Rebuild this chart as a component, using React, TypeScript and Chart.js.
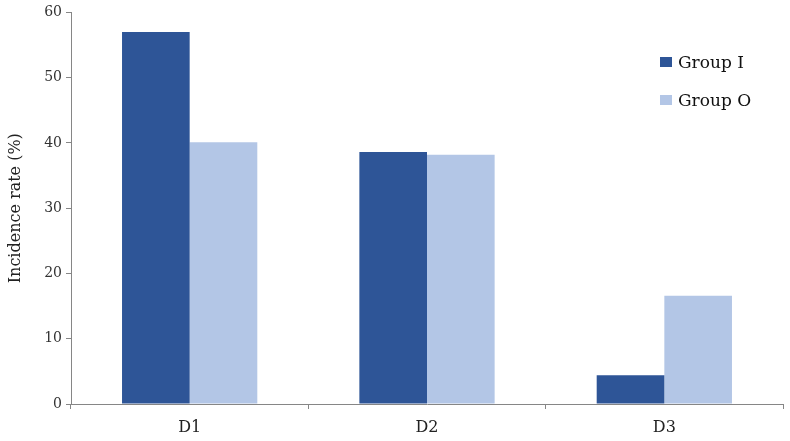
import React, { useEffect, useRef } from "react";
import { Chart, registerables } from "chart.js";

Chart.register(...registerables);

const categories = ["D1", "D2", "D3"];
const groupI = [57, 38.6, 4.4];
const groupO = [40.1, 38.2, 16.6];
const seriesNames = ["Group I", "Group O"];
const colors = ["#2E5597", "#B3C6E6"];

const FONT = "'DejaVu Serif', 'Liberation Serif', serif";

export default function App() {
  const ref = useRef<HTMLCanvasElement | null>(null);

  useEffect(() => {
    document.body.style.margin = "0";
    const ctx = ref.current!;
    const chart = new Chart(ctx, {
      type: "bar",
      data: {
        labels: categories,
        datasets: [
          { label: seriesNames[0], data: groupI, backgroundColor: colors[0], categoryPercentage: 0.57, barPercentage: 1 },
          { label: seriesNames[1], data: groupO, backgroundColor: colors[1], categoryPercentage: 0.57, barPercentage: 1 },
        ],
      },
      options: {
        responsive: false,
        animation: false,
        layout: { padding: { left: 0, right: 7, top: 11, bottom: 0 } },
        plugins: { legend: { display: false }, tooltip: { enabled: false } },
        scales: {
          x: {
            grid: { display: true, drawOnChartArea: false, drawTicks: true, tickLength: 5, color: "#868686", offset: true },
            border: { display: true, color: "#868686", width: 1 },
            ticks: { color: "#222", font: { family: FONT, size: 16 }, padding: 9 },
            afterFit: (s: any) => { s.height = 37; },
          },
          y: {
            min: 0,
            max: 60,
            grid: { display: true, drawOnChartArea: false, drawTicks: true, tickLength: 5, color: "#868686" },
            border: { display: true, color: "#868686", width: 1 },
            ticks: { stepSize: 10, color: "#333", font: { family: FONT, size: 14 }, padding: 4 },
            title: { display: true, text: "Incidence rate (%)", color: "#222", font: { family: FONT, size: 16 }, padding: { top: 6, bottom: 0 } },
            afterFit: (s: any) => { s.width = 71; },
          },
        },
      },
    });
    return () => chart.destroy();
  }, []);

  const legendItem = (name: string, color: string, top: number) => (
    <div key={name} style={{ position: "absolute", left: 660, top, display: "flex", alignItems: "center", fontFamily: FONT, fontSize: 17, color: "#111", whiteSpace: "nowrap" }}>
      <span style={{ display: "inline-block", width: 12, height: 10, background: color, marginRight: 6 }} />
      <span>{name}</span>
    </div>
  );

  return (
    <div style={{ position: "relative", width: 790, height: 441, background: "#fff" }}>
      <canvas ref={ref} width={790} height={441} style={{ display: "block" }} />
      {legendItem(seriesNames[0], colors[0], 52)}
      {legendItem(seriesNames[1], colors[1], 90)}
    </div>
  );
}
